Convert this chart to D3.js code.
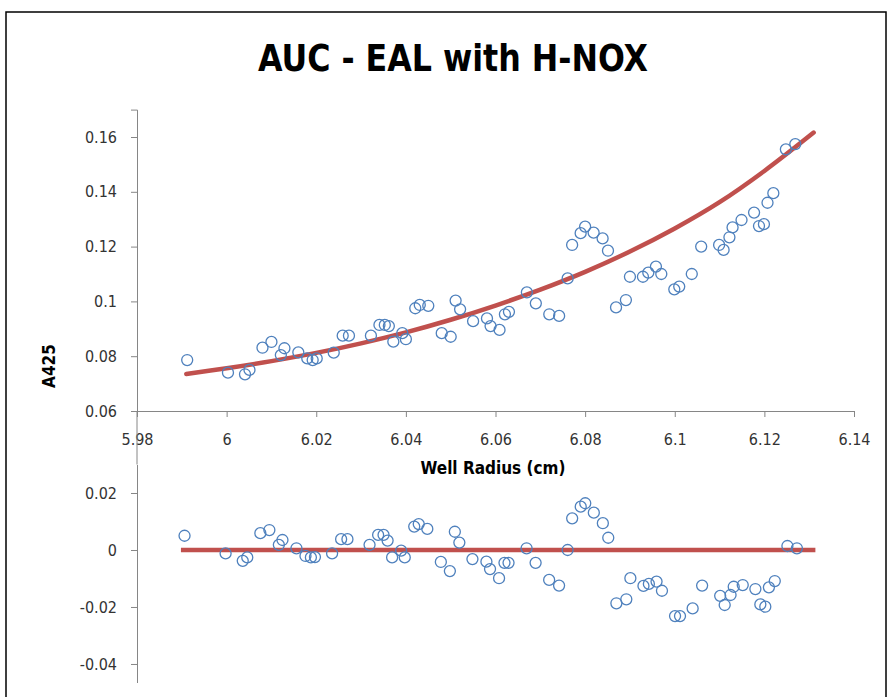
<!DOCTYPE html>
<html>
<head>
<meta charset="utf-8">
<script src="https://cdn.jsdelivr.net/npm/d3@7"></script>
<style>
  body { margin: 0; background: #fff; }
  svg { display: block; }
  .tick text { font-family: "Liberation Sans Narrow", "DejaVu Sans Condensed", sans-serif; font-size: 16px; fill: #333; }
</style>
</head>
<body>
<div id="container"></div>
<script>
// well radius (cm)
var radius = [5.9912, 6.0003, 6.0041, 6.0051, 6.0080, 6.0100, 6.0129, 6.0121, 6.0160, 6.0180,
  6.0192, 6.0201, 6.0239, 6.0259, 6.0273, 6.0322, 6.0341, 6.0353, 6.0362, 6.0372,
  6.0392, 6.0400, 6.0421, 6.0431, 6.0450, 6.0480, 6.0500, 6.0511, 6.0521, 6.0550,
  6.0581, 6.0589, 6.0609, 6.0621, 6.0630, 6.0670, 6.0690, 6.0720, 6.0742, 6.0761,
  6.0771, 6.0790, 6.0800, 6.0819, 6.0839, 6.0851, 6.0869, 6.0891, 6.0900, 6.0929,
  6.0941, 6.0958, 6.0970, 6.0999, 6.1010, 6.1038, 6.1059, 6.1099, 6.1109, 6.1122,
  6.1129, 6.1149, 6.1177, 6.1188, 6.1199, 6.1207, 6.1220, 6.1248, 6.1269]
// measured A425
var a425 = [0.0786, 0.0740, 0.0734, 0.0750, 0.0831, 0.0852, 0.0829, 0.0804, 0.0814, 0.0792,
  0.0786, 0.0792, 0.0813, 0.0875, 0.0875, 0.0875, 0.0914, 0.0914, 0.0910, 0.0853,
  0.0884, 0.0862, 0.0975, 0.0987, 0.0984, 0.0884, 0.0871, 0.1003, 0.0971, 0.0928,
  0.0938, 0.0910, 0.0896, 0.0953, 0.0962, 0.1033, 0.0993, 0.0953, 0.0947, 0.1084,
  0.1206, 0.1249, 0.1273, 0.1251, 0.1230, 0.1185, 0.0978, 0.1005, 0.1090, 0.1090,
  0.1105, 0.1127, 0.1100, 0.1044, 0.1054, 0.1100, 0.1200, 0.1206, 0.1188, 0.1234,
  0.1270, 0.1297, 0.1324, 0.1275, 0.1282, 0.1360, 0.1395, 0.1555, 0.1574]
// residuals
var resid = [0.0050, -0.0012, -0.0038, -0.0026, 0.0059, 0.0070, 0.0035, 0.0018, 0.0006, -0.0021,
  -0.0026, -0.0025, -0.0012, 0.0038, 0.0038, 0.0018, 0.0053, 0.0053, 0.0033, -0.0026,
  -0.0002, -0.0026, 0.0082, 0.0091, 0.0074, -0.0042, -0.0074, 0.0064, 0.0026, -0.0032,
  -0.0041, -0.0067, -0.0099, -0.0045, -0.0045, 0.0006, -0.0045, -0.0105, -0.0125, 0.0000,
  0.0111, 0.0152, 0.0164, 0.0131, 0.0094, 0.0043, -0.0187, -0.0173, -0.0099, -0.0126,
  -0.0119, -0.0111, -0.0143, -0.0232, -0.0232, -0.0205, -0.0125, -0.0161, -0.0193, -0.0158,
  -0.0129, -0.0123, -0.0137, -0.0191, -0.0199, -0.0131, -0.0109, 0.0014, 0.0006]
// fitted trend curve
var fitX = [5.991, 6.000, 6.010, 6.020, 6.030, 6.040, 6.050, 6.060, 6.070, 6.080, 6.090, 6.100, 6.110, 6.120, 6.131]
var fitY = [0.0735, 0.0756, 0.0782, 0.0812, 0.0847, 0.0887, 0.0933, 0.0985, 0.1043, 0.1108, 0.1182, 0.1266, 0.1362, 0.1476, 0.1616]

var xTicks = [5.98, 6, 6.02, 6.04, 6.06, 6.08, 6.1, 6.12, 6.14]
var yTicks = [0.06, 0.08, 0.1, 0.12, 0.14, 0.16]
var rTicks = [0.02, 0, -0.02, -0.04]

var W = 889, H = 697
var blue = '#4f81bd', red = '#c0504d', axisGrey = '#868686'
var font = '"Liberation Sans Narrow", "DejaVu Sans Condensed", sans-serif'
var fmt = function (d) { return String(+d.toFixed(2)) }

var svg = d3.select('#container').append('svg').attr('width', W).attr('height', H)

// chart border
svg.append('rect')
  .attr('x', 6).attr('y', 12).attr('width', 880).attr('height', 720)
  .attr('fill', 'none').attr('stroke', '#000').attr('stroke-width', 1.5)

var x = d3.scaleLinear().domain([5.98, 6.14]).range([137, 854])
var y = d3.scaleLinear().domain([0.06, 0.17]).range([411, 109.6])
var xr = d3.scaleLinear().domain([5.98, 6.14]).range([134, 856])
var yr = d3.scaleLinear().domain([-0.0465, 0.03]).range([682.5, 464.5])

var pts = radius.map(function (d, i) {
  return { x: d, y: a425[i], r: resid[i] }
})
var fit = fitX.map(function (d, i) { return { x: d, y: fitY[i] } })

// axes
svg.append('g')
  .attr('transform', 'translate(' + x(5.98) + ',0)')
  .call(d3.axisLeft(y).tickValues(yTicks).tickSize(6).tickPadding(14).tickFormat(fmt))

svg.append('g')
  .attr('transform', 'translate(0,' + y(0.06) + ')')
  .call(d3.axisBottom(x).tickValues(xTicks).tickSize(6).tickSizeOuter(0).tickPadding(17).tickFormat(fmt))

svg.append('g')
  .attr('transform', 'translate(' + x(5.98) + ',0)')
  .call(d3.axisLeft(yr).tickValues(rTicks).tickSize(6).tickSizeOuter(0).tickPadding(14).tickFormat(fmt))

// join the two value axes
svg.append('line')
  .attr('x1', x(5.98)).attr('x2', x(5.98))
  .attr('y1', y(0.06)).attr('y2', yr(0.03))

svg.selectAll('.domain, .tick line, line').attr('stroke', axisGrey)

// trend curve
var line = d3.line()
  .x(function (d) { return x(d.x) })
  .y(function (d) { return y(d.y) })
  .curve(d3.curveCatmullRom)

svg.append('path').datum(fit)
  .attr('d', line)
  .attr('fill', 'none').attr('stroke', red).attr('stroke-width', 4.5)
  .attr('stroke-linecap', 'round')

// zero line for residuals
svg.append('line')
  .attr('x1', xr(5.9904)).attr('x2', xr(fitX[fitX.length - 1]))
  .attr('y1', yr(0)).attr('y2', yr(0))
  .attr('stroke', red).attr('stroke-width', 4.5)

svg.append('g').selectAll('circle')
  .data(pts).enter().append('circle')
  .attr('cx', function (d) { return x(d.x) })
  .attr('cy', function (d) { return y(d.y) })
  .attr('r', 5.5)
  .attr('fill', 'none').attr('stroke', blue).attr('stroke-width', 1.3)

svg.append('g').selectAll('circle')
  .data(pts).enter().append('circle')
  .attr('cx', function (d) { return xr(d.x) })
  .attr('cy', function (d) { return yr(d.r) })
  .attr('r', 5.5)
  .attr('fill', 'none').attr('stroke', blue).attr('stroke-width', 1.3)

// titles
svg.append('text')
  .attr('x', 453).attr('y', 71)
  .attr('text-anchor', 'middle')
  .attr('font-family', font).attr('font-weight', 'bold').attr('font-size', 38)
  .attr('textLength', 390).attr('lengthAdjust', 'spacingAndGlyphs')
  .text('AUC - EAL with H-NOX')

svg.append('text')
  .attr('x', 493).attr('y', 474)
  .attr('text-anchor', 'middle')
  .attr('font-family', font).attr('font-weight', 'bold').attr('font-size', 17)
  .text('Well Radius  (cm)')

svg.append('text')
  .attr('transform', 'translate(55,366) rotate(-90)')
  .attr('text-anchor', 'middle')
  .attr('font-family', font).attr('font-weight', 'bold').attr('font-size', 17)
  .text('A425')
</script>
</body>
</html>
